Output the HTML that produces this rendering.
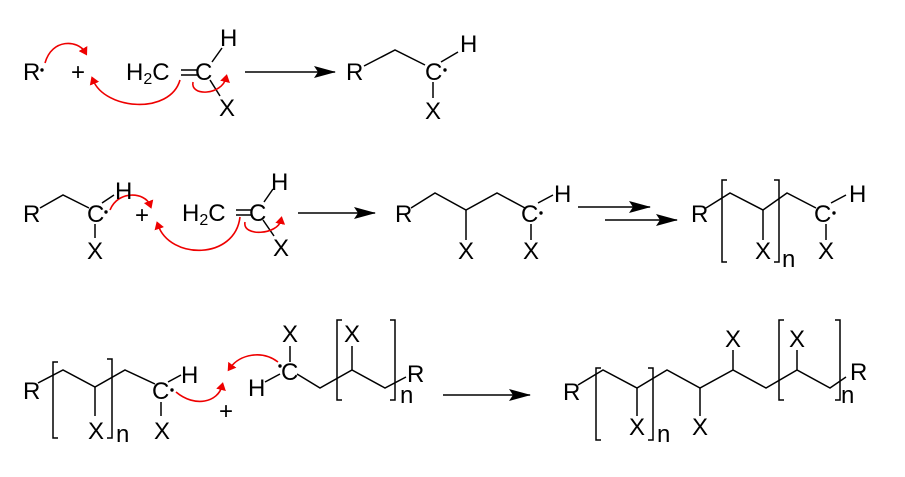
<!DOCTYPE html>
<html><head><meta charset="utf-8"><style>html,body{margin:0;padding:0;background:#fff}svg{display:block}text{font-family:"Liberation Sans",sans-serif;font-size:24px}</style></head>
<body>
<svg width="905" height="477" viewBox="0 0 905 477" xmlns="http://www.w3.org/2000/svg" fill="#000">
<defs>
<marker id="big" markerWidth="22" markerHeight="12" refX="21" refY="6" orient="auto" markerUnits="userSpaceOnUse"><path d="M0,0 L22,6 L0,12 L4,6 Z" fill="#000"/></marker>
<marker id="rh" markerWidth="8" markerHeight="10" refX="4" refY="5" orient="auto" markerUnits="userSpaceOnUse"><path d="M0,0 L8,5 L0,10 Z" fill="#e00"/></marker>
</defs>
<g stroke="#000" stroke-width="1.5" fill="none">
<line x1="181" y1="70" x2="197" y2="70"/><line x1="181" y1="75" x2="197" y2="75"/>
<line x1="212" y1="62" x2="222" y2="48"/><line x1="210" y1="80" x2="220" y2="96"/>
<line x1="245" y1="72" x2="335" y2="72" marker-end="url(#big)"/>
<polyline points="364,66 395,50 425,65"/>
<line x1="441" y1="62" x2="458" y2="52"/><line x1="433" y1="82" x2="433" y2="98"/>
<polyline points="40,208 63,195 89,208"/>
<line x1="102" y1="203" x2="114" y2="195"/><line x1="95" y1="224" x2="95" y2="238"/>
<line x1="236" y1="210" x2="251" y2="210"/><line x1="236" y1="215" x2="251" y2="215"/>
<line x1="264" y1="202" x2="273" y2="189"/><line x1="263" y1="220" x2="274" y2="236"/>
<line x1="298" y1="213" x2="375" y2="213" marker-end="url(#big)"/>
<polyline points="411,208 435,193 466,210 497,193 525,208"/>
<line x1="466" y1="210" x2="466" y2="240"/>
<line x1="538" y1="203" x2="553" y2="195"/><line x1="531" y1="224" x2="531" y2="240"/>
<line x1="578" y1="207" x2="650" y2="207" marker-end="url(#big)"/>
<line x1="605" y1="220" x2="677" y2="220" marker-end="url(#big)"/>
<polyline points="706,208 730,193 763,210 787,193 816,208"/>
<line x1="763" y1="210" x2="763" y2="240"/>
<line x1="831" y1="203" x2="846" y2="195"/><line x1="826" y1="224" x2="826" y2="240"/>
<path d="M727,180 H722 V262 H727"/><path d="M774,180 H779 V262 H774"/>
<polyline points="38,383 63,370 95,387 125,370 155,384"/>
<line x1="95" y1="387" x2="95" y2="416"/>
<line x1="168" y1="382" x2="181" y2="375"/><line x1="161" y1="402" x2="161" y2="416"/>
<path d="M58,362 H53 V438 H58"/><path d="M107,359 H112 V438 H107"/>
<line x1="290" y1="346" x2="290" y2="362"/>
<line x1="265" y1="382" x2="280" y2="374"/>
<polyline points="297,374 320,388 352,370 385,388 406,377"/>
<line x1="352" y1="346" x2="352" y2="370"/>
<path d="M342,320 H337 V400 H342"/><path d="M390,320 H395 V400 H390"/>
<line x1="443" y1="395" x2="530" y2="395" marker-end="url(#big)"/>
<polyline points="578,385 603,370 637,388 667,370 700,388 733,370 766,388 797,370 830,388 846,377"/>
<line x1="637" y1="388" x2="637" y2="416"/>
<line x1="700" y1="388" x2="700" y2="416"/>
<line x1="733" y1="350" x2="733" y2="370"/>
<line x1="797" y1="350" x2="797" y2="370"/>
<path d="M601,368 H596 V440 H601"/><path d="M648,368 H653 V440 H648"/>
<path d="M784,320 H779 V400 H784"/><path d="M835,320 H840 V400 H835"/>
</g>
<g stroke="#e00" stroke-width="1.6" fill="none">
<path d="M45,63 C52,38 78,40 85,52" marker-end="url(#rh)"/>
<path d="M180,80 C170,115 105,110 93,80" marker-end="url(#rh)"/>
<path d="M193,82 C190,97 222,95 226,78" marker-end="url(#rh)"/>
<path d="M110,210 C118,190 145,192 150,205" marker-end="url(#rh)"/>
<path d="M240,217 C235,260 170,260 158,225" marker-end="url(#rh)"/>
<path d="M245,222 C242,237 278,235 281,220" marker-end="url(#rh)"/>
<path d="M176,392 C195,408 218,402 222,386" marker-end="url(#rh)"/>
<path d="M278,362 C262,350 240,354 230,368" marker-end="url(#rh)"/>
</g>
<g fill="#000">
<circle cx="42" cy="70" r="1.7"/><circle cx="445" cy="70" r="1.7"/>
<circle cx="106" cy="212" r="1.7"/><circle cx="541" cy="213" r="1.7"/>
<circle cx="834" cy="213" r="1.7"/><circle cx="172" cy="390" r="1.7"/>
<circle cx="280" cy="366" r="1.7"/>
</g>
<text x="23" y="80">R</text>
<text x="71" y="80">+</text>
<text x="126" y="80">H<tspan font-size="16" dy="4">2</tspan><tspan dy="-4">C</tspan></text>
<text x="195" y="80">C</text>
<text x="220" y="46">H</text><text x="219" y="116">X</text>
<text x="346" y="80">R</text><text x="425" y="80">C</text>
<text x="460" y="52">H</text><text x="425" y="119">X</text>

<text x="23" y="222">R</text><text x="87" y="222">C</text>
<text x="115" y="199">H</text><text x="87" y="259">X</text>
<text x="135" y="223">+</text>
<text x="182" y="221">H<tspan font-size="16" dy="4">2</tspan><tspan dy="-4">C</tspan></text>
<text x="249" y="221">C</text><text x="271" y="190">H</text><text x="273" y="256">X</text>
<text x="395" y="222">R</text><text x="521" y="222">C</text>
<text x="554" y="202">H</text><text x="458" y="259">X</text><text x="523" y="259">X</text>
<text x="691" y="222">R</text><text x="814" y="222">C</text>
<text x="849" y="202">H</text><text x="755" y="259">X</text><text x="818" y="259">X</text>
<text x="782" y="267">n</text>

<text x="23" y="399">R</text><text x="88" y="439">X</text><text x="116" y="442">n</text>
<text x="152" y="399">C</text>
<text x="181" y="383">H</text><text x="154" y="439">X</text>
<text x="219" y="419">+</text>
<text x="281" y="380">C</text>
<text x="282" y="342">X</text><text x="248" y="396">H</text>
<text x="344" y="342">X</text><text x="407" y="382">R</text><text x="400" y="403">n</text>
<text x="563" y="400">R</text><text x="629" y="435">X</text><text x="657" y="442">n</text>
<text x="692" y="435">X</text><text x="725" y="347">X</text><text x="789" y="347">X</text>
<text x="850" y="380">R</text><text x="841" y="403">n</text>
</svg>
</body></html>
